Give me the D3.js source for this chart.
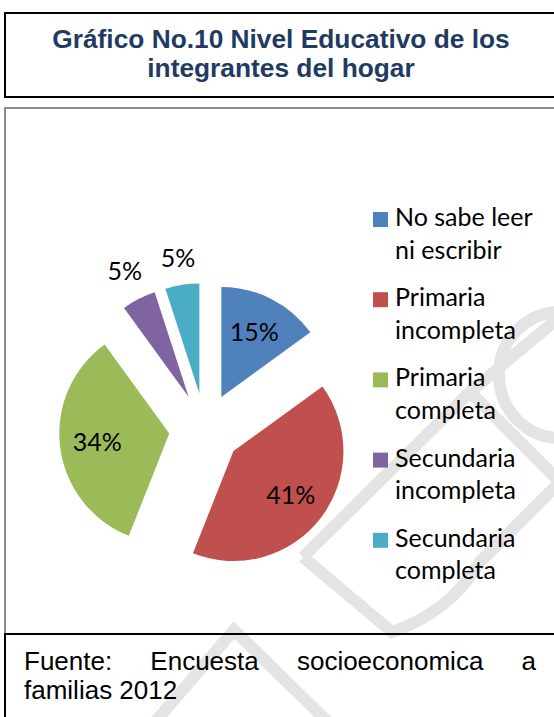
<!DOCTYPE html>
<html>
<head>
    <meta charset="utf-8">
    <title>Nivel Educativo</title>
    <script src="https://cdn.jsdelivr.net/npm/d3@7"></script>
    <style>
        body { margin: 0; background: #fff; }
        #drawingPlace text.title { font-family: "Liberation Sans", Arial, sans-serif; font-weight: bold; font-size: 26.3px; fill: #1f3b63; }
        #drawingPlace text.label { font-family: Lato, "Open Sans", sans-serif; font-size: 25px; fill: #000; }
        #drawingPlace text.legend { font-family: Lato, "Open Sans", sans-serif; font-size: 25px; fill: #000; }
        #drawingPlace text.source { font-family: "Liberation Sans", Arial, sans-serif; font-size: 26px; fill: #000; }
    </style>
</head>
<body>
<svg id="drawingPlace" width="554" height="717"></svg>
<script>
    // data
    var categories = ["No sabe leer ni escribir", "Primaria incompleta", "Primaria completa",
                      "Secundaria incompleta", "Secundaria completa"];
    var values = [15, 41, 34, 5, 5];
    var colors = ["#4F81BD", "#C0504D", "#9BBB59", "#8064A2", "#4BACC6"];
    var titleLines = ["Gráfico No.10 Nivel Educativo de los", "integrantes del hogar"];
    var sourceLines = ["Fuente: Encuesta socioeconomica a", "familias 2012"];

    var svg = d3.select("#drawingPlace");

    // faint watermark behind everything
    var wm = svg.append("g")
        .attr("fill", "none")
        .attr("stroke", "#e4e4e4")
        .attr("stroke-width", 12);
    wm.append("path").attr("d", "M150,728 L234,630 L334,728");
    wm.append("path").attr("d", "M303,557 L470,392 L560,482");
    wm.append("path").attr("d", "M303,557 L392,632 Q 450,612 480,562 L562,480");
    wm.append("path").attr("d", "M470,392 L562,315");
    wm.append("path").attr("d", "M560,312 A 60 62 0 0 0 560,438");

    // boxes
    svg.append("rect")
        .attr("x", 5).attr("y", 13).attr("width", 560).attr("height", 84)
        .attr("fill", "none").attr("stroke", "#000").attr("stroke-width", 2);
    svg.append("path")
        .attr("d", "M5,634 L5,108 L560,108")
        .attr("fill", "none").attr("stroke", "#8c8c8c").attr("stroke-width", 2);
    svg.append("path")
        .attr("d", "M5,720 L5,634 L560,634")
        .attr("fill", "none").attr("stroke", "#000").attr("stroke-width", 2);

    // title
    svg.selectAll("text.title")
        .data(titleLines)
        .enter()
        .append("text")
        .attr("class", "title")
        .attr("x", 281)
        .attr("y", (d, i) => 48 + i * 29)
        .attr("text-anchor", "middle")
        .text(d => d);

    // pie
    var cx = 205, cy = 429, r = 110, explode = 36;
    var pie = d3.pie().sort(null).value(d => d);
    var arc = d3.arc().innerRadius(0).outerRadius(r);
    var arcs = pie(values);

    function offset(d, dist) {
        var a = (d.startAngle + d.endAngle) / 2;
        return [Math.sin(a) * dist, -Math.cos(a) * dist];
    }

    var slices = svg.append("g")
        .attr("transform", "translate(" + cx + "," + cy + ")");

    slices.selectAll("path")
        .data(arcs)
        .enter()
        .append("path")
        .attr("d", arc)
        .attr("transform", d => "translate(" + offset(d, explode) + ")")
        .style("fill", (d, i) => colors[i]);

    // data labels: inside for big slices, outside for small ones
    slices.selectAll("text.label")
        .data(arcs)
        .enter()
        .append("text")
        .attr("class", "label")
        .attr("text-anchor", "middle")
        .attr("dy", "0.35em")
        .text(d => d.data + "%")
        .each(function (d) {
            var a = (d.startAngle + d.endAngle) / 2;
            var dist;
            if (d.data > 10) {
                dist = explode + r * 0.66;
            } else {
                var b = this.getBBox();
                var ext = (b.width / 2) * Math.abs(Math.sin(a)) + (b.height / 2 - 4) * Math.abs(Math.cos(a));
                dist = explode + r + 13 + ext;
            }
            var p = [Math.sin(a) * dist, -Math.cos(a) * dist];
            d3.select(this).attr("x", p[0]).attr("y", p[1]);
        });

    // legend
    var legend = svg.append("g")
        .attr("transform", "translate(373,212)");

    var item = legend.selectAll("g")
        .data(categories)
        .enter()
        .append("g")
        .attr("transform", (d, i) => "translate(0," + i * 80.2 + ")");

    item.append("rect")
        .attr("width", 15)
        .attr("height", 15)
        .style("fill", (d, i) => colors[i]);

    item.append("text")
        .attr("class", "legend")
        .attr("x", 22)
        .attr("y", 14)
        .each(function (d) {
            var t = d3.select(this);
            var words = d.split(" ");
            var line = [];
            var tspan = t.append("tspan").attr("x", 22).attr("dy", 0);
            words.forEach(function (w) {
                line.push(w);
                tspan.text(line.join(" "));
                if (tspan.node().getComputedTextLength() > 145 && line.length > 1) {
                    line.pop();
                    tspan.text(line.join(" "));
                    line = [w];
                    tspan = t.append("tspan").attr("x", 22).attr("dy", 32.5).text(w);
                }
            });
        });

    // source, first line justified
    var left = 24, right = 536;
    var src = svg.append("g");
    var words0 = sourceLines[0].split(" ");
    var wtexts = src.selectAll("text.w")
        .data(words0)
        .enter()
        .append("text")
        .attr("class", "source")
        .attr("y", 670)
        .text(d => d);
    var widths = [];
    wtexts.each(function () { widths.push(this.getComputedTextLength()); });
    var gap = (right - left - d3.sum(widths)) / (words0.length - 1);
    var xpos = left;
    wtexts.attr("x", function (d, i) {
        var x0 = xpos;
        xpos += widths[i] + gap;
        return x0;
    });
    src.append("text")
        .attr("class", "source")
        .attr("x", left)
        .attr("y", 699)
        .text(sourceLines[1]);
</script>
</body>
</html>
